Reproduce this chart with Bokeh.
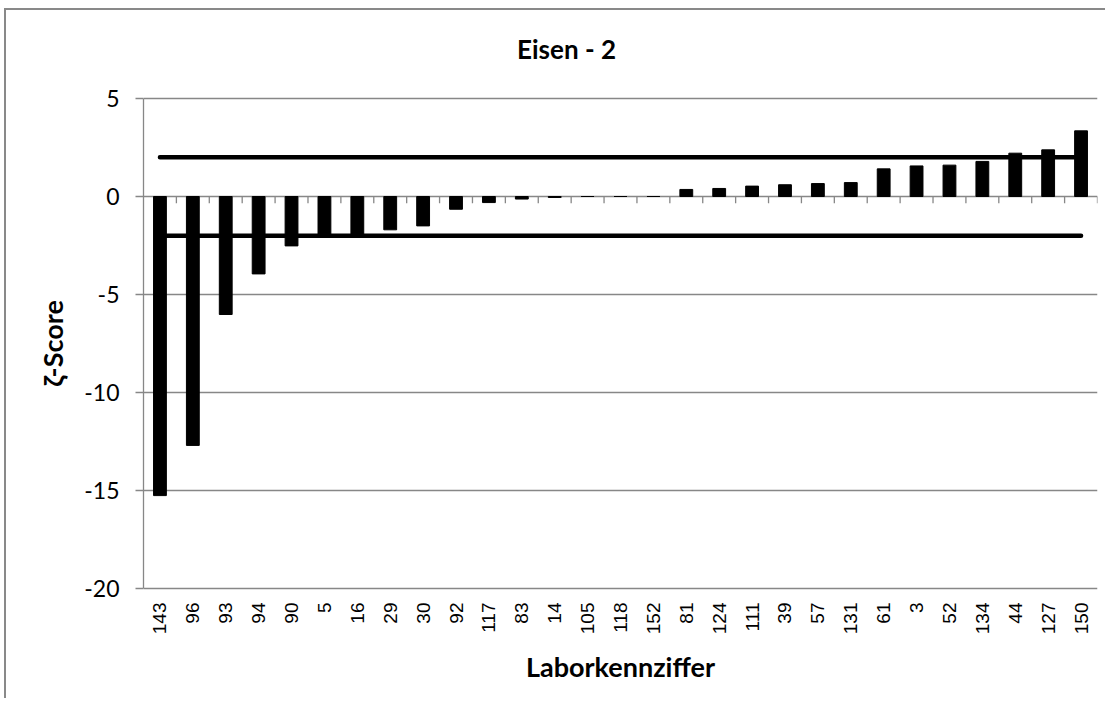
import math
from bokeh.plotting import figure
from bokeh.models import Range1d, FixedTicker, ColumnDataSource, LabelSet, Label
from bokeh.core.properties import value
from bokeh.embed import file_html
from bokeh.resources import INLINE

# Data
labs = ["143", "96", "93", "94", "90", "5", "16", "29", "30", "92", "117", "83",
        "14", "105", "118", "152", "81", "124", "111", "39", "57", "131", "61",
        "3", "52", "134", "44", "127", "150"]
scores = [-15.26, -12.7, -6.02, -3.95, -2.52, -2.05, -2.0, -1.70, -1.50, -0.65,
          -0.31, -0.13, -0.05, 0.0, 0.0, 0.0, 0.36, 0.41, 0.53, 0.60, 0.66, 0.71,
          1.41, 1.56, 1.60, 1.79, 2.21, 2.38, 3.35]
upper_limit = [2.0] * len(labs)
lower_limit = [-2.0] * len(labs)
y_ticks = [-20, -15, -10, -5, 0, 5]
y_tick_labels = ["-20", "-15", "-10", "-5", "0", "5"]
title_text = "Eisen - 2"

n = len(labs)
xc = [i + 0.5 for i in range(n)]
bounds = [i + 1 for i in range(n)]
y_min, y_max = y_ticks[0], y_ticks[-1]

# plot area is 490 px tall for the 25 units of the axis; the frame is extended
# above and below so that the title and the rotated category labels fit inside it
PX_PER_UNIT = 490 / (y_max - y_min)
PAD = 65 / PX_PER_UNIT

src = ColumnDataSource(dict(x=xc, top=scores, up=upper_limit, lo=lower_limit,
                            lab=labs, ybase=[y_min] * n))

GRAY = "#878787"

p = figure(frame_width=954, frame_height=490 + 2 * 65,
           x_range=Range1d(0, n), y_range=Range1d(y_min - PAD, y_max + PAD),
           output_backend="svg", toolbar_location=None,
           min_border_left=137, min_border_right=8,
           min_border_top=23, min_border_bottom=45)
p.styles = {"border-left": "2px solid #898989", "border-top": "2px solid #898989",
            "margin-left": "4px", "margin-top": "8px"}

p.outline_line_color = None
p.background_fill_color = "white"
p.border_fill_color = "white"

# grids
p.xgrid.grid_line_color = None
p.ygrid.grid_line_color = GRAY
p.ygrid.grid_line_width = 1.3
p.ygrid.ticker = FixedTicker(ticks=y_ticks)

# y axis
ya = p.yaxis[0]
ya.bounds = (y_min, y_max)
ya.ticker = FixedTicker(ticks=y_ticks)
ya.major_label_overrides = {t: s for t, s in zip(y_ticks, y_tick_labels)}
ya.axis_line_color = GRAY
ya.axis_line_width = 1.3
ya.major_tick_line_color = GRAY
ya.major_tick_line_width = 1.3
ya.major_tick_out = 8
ya.major_tick_in = 0
ya.minor_tick_line_color = None
ya.major_label_text_font = "Lato"
ya.major_label_text_font_size = "23px"
ya.major_label_text_color = "black"
ya.major_label_standoff = 16
ya.axis_label = "ζ-Score"
ya.axis_label_text_font = "Lato"
ya.axis_label_text_font_style = "bold"
ya.axis_label_text_font_size = "27px"
ya.axis_label_text_color = "black"
ya.axis_label_standoff = 12

# x axis: only the axis title; category labels drawn as a LabelSet
xa = p.xaxis[0]
xa.ticker = FixedTicker(ticks=[])
xa.axis_line_color = None
xa.major_tick_line_color = None
xa.minor_tick_line_color = None
xa.axis_label = "Laborkennziffer"
xa.axis_label_text_font = "Lato"
xa.axis_label_text_font_style = "bold"
xa.axis_label_text_font_size = "27px"
xa.axis_label_text_color = "black"
xa.axis_label_standoff = -4

p.add_layout(LabelSet(x="x", y="ybase", text="lab", source=src,
                      angle=math.pi / 2, text_align="right", text_baseline="middle",
                      y_offset=-14, text_font=value("Liberation Sans"),
                      text_font_size=value("19px"), text_color="black"))

# title
p.add_layout(Label(x=12.86, y=y_max, y_offset=50, text=title_text, text_align="center",
                   text_baseline="middle", text_font="Lato", text_font_style="bold",
                   text_font_size="26px", text_color="black"))

# category tick marks on the zero line
p.segment(x0=bounds, y0=[0] * n, x1=bounds, y1=[-0.35] * n,
          line_color=GRAY, line_width=1.3)

# bars
p.vbar(x="x", top="top", bottom=0, width=0.39, source=src,
       fill_color="black", line_color="black")

# limit lines
p.line(x="x", y="up", source=src, line_color="black", line_width=4.5, line_cap="round")
p.line(x="x", y="lo", source=src, line_color="black", line_width=4.5, line_cap="round")

open("out.html", "w").write(file_html(p, INLINE))
